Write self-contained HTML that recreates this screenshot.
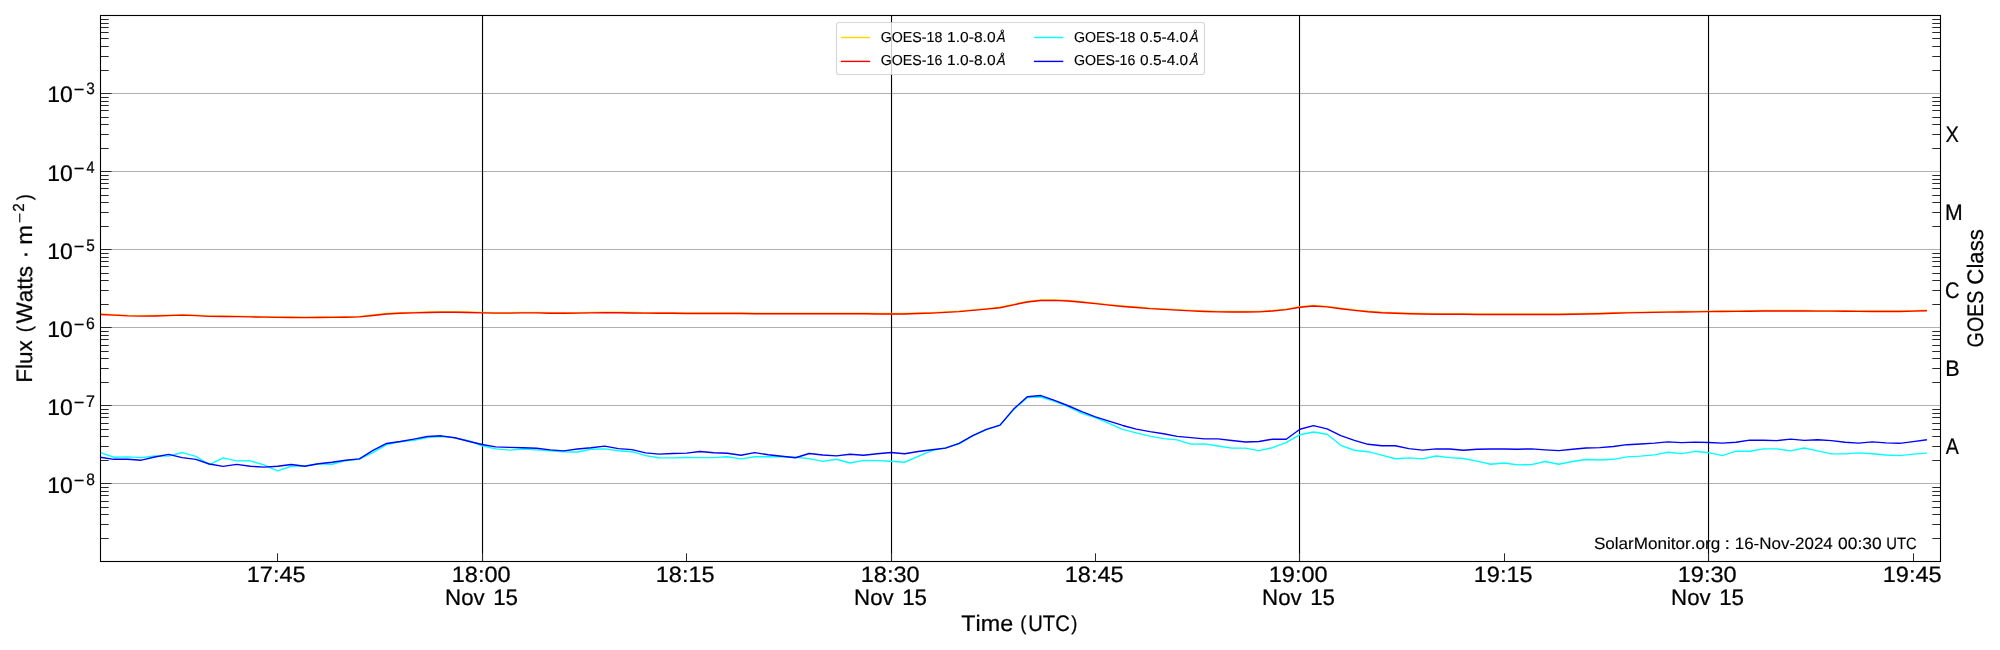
<!DOCTYPE html>
<html lang="en"><head><meta charset="utf-8"><title>GOES X-ray Flux</title>
<style>html,body{margin:0;padding:0;background:#fff;}body{width:2000px;height:650px;overflow:hidden;font-family:"Liberation Sans",sans-serif;}svg{display:block;}text{font-family:"Liberation Sans",sans-serif;fill:#000;font-kerning:none;white-space:pre;text-rendering:geometricPrecision;stroke:#000;stroke-width:0.24px;stroke-linejoin:round;}.s text{stroke-width:0.14px;}.t{filter:grayscale(1);}</style>
</head><body>
<svg width="2000" height="650" viewBox="0 0 2000 650">
<rect x="0" y="0" width="2000" height="650" fill="#ffffff"/>
<path d="M100.5 483.50H1940.5M100.5 405.50H1940.5M100.5 327.50H1940.5M100.5 249.50H1940.5M100.5 171.50H1940.5M100.5 93.50H1940.5" stroke="#b0b0b0" stroke-width="1.1" fill="none"/>
<path d="M482.52 15.5V561.5M891.52 15.5V561.5M1299.52 15.5V561.5M1708.52 15.5V561.5" stroke="#000" stroke-width="1.12" fill="none"/>
<g fill="none" stroke-linejoin="round" stroke-linecap="butt" stroke-width="1.40">
<polyline stroke="#ffd700" points="100.4,314.05 114.0,314.67 127.7,315.41 141.3,315.65 154.9,315.53 168.6,315.16 182.2,314.67 195.8,315.16 209.4,315.90 223.1,316.02 236.7,316.15 250.3,316.39 264.0,316.64 277.6,316.88 291.2,317.01 304.9,317.13 318.5,317.01 332.1,316.88 345.7,316.76 359.4,316.39 373.0,315.04 386.6,313.56 400.3,312.82 413.9,312.33 427.5,311.96 441.2,311.72 454.8,311.72 468.4,311.96 482.1,312.33 495.7,312.58 509.3,312.58 522.9,312.33 536.6,312.33 550.2,312.70 563.8,312.82 577.5,312.58 591.1,312.33 604.7,312.21 618.4,312.21 632.0,312.45 645.6,312.58 659.2,312.70 672.9,312.82 686.5,312.95 700.1,312.95 713.8,312.95 727.4,313.07 741.0,313.07 754.7,313.19 768.3,313.19 781.9,313.32 795.5,313.32 809.2,313.32 822.8,313.32 836.4,313.32 850.1,313.32 863.7,313.32 877.3,313.44 891.0,313.44 904.6,313.44 918.2,313.07 931.9,312.58 945.5,311.84 959.1,311.10 972.7,309.87 986.4,308.64 1000.0,307.28 1013.6,304.33 1027.3,301.50 1040.9,300.02 1054.5,299.90 1068.2,300.52 1081.8,301.75 1095.4,303.10 1109.0,304.58 1122.7,305.93 1136.3,307.04 1149.9,308.15 1163.6,308.88 1177.2,309.62 1190.8,310.36 1204.5,310.98 1218.1,311.35 1231.7,311.47 1245.4,311.47 1259.0,311.35 1272.6,310.48 1286.2,309.13 1299.9,306.79 1313.5,305.56 1327.1,306.42 1340.8,308.27 1354.4,309.87 1368.0,311.22 1381.7,312.21 1395.3,312.82 1408.9,313.32 1422.5,313.56 1436.2,313.68 1449.8,313.81 1463.4,313.81 1477.1,313.93 1490.7,313.93 1504.3,313.93 1518.0,313.93 1531.6,313.93 1545.2,313.93 1558.8,313.93 1572.5,313.81 1586.1,313.56 1599.7,313.32 1613.4,312.82 1627.0,312.33 1640.6,312.08 1654.3,311.84 1667.9,311.59 1681.5,311.47 1695.2,311.35 1708.8,311.10 1722.4,310.98 1736.0,310.85 1749.7,310.73 1763.3,310.55 1776.9,310.48 1790.6,310.48 1804.2,310.48 1817.8,310.61 1831.5,310.61 1845.1,310.73 1858.7,310.85 1872.3,310.98 1886.0,310.98 1899.6,310.98 1913.2,310.61 1926.9,310.24"/>
<polyline stroke="#ff0000" points="100.4,314.55 114.0,315.17 127.7,315.91 141.3,316.15 154.9,316.03 168.6,315.66 182.2,315.17 195.8,315.66 209.4,316.40 223.1,316.52 236.7,316.65 250.3,316.89 264.0,317.14 277.6,317.38 291.2,317.51 304.9,317.63 318.5,317.51 332.1,317.38 345.7,317.26 359.4,316.89 373.0,315.54 386.6,314.06 400.3,313.32 413.9,312.83 427.5,312.46 441.2,312.22 454.8,312.22 468.4,312.46 482.1,312.83 495.7,313.08 509.3,313.08 522.9,312.83 536.6,312.83 550.2,313.20 563.8,313.32 577.5,313.08 591.1,312.83 604.7,312.71 618.4,312.71 632.0,312.95 645.6,313.08 659.2,313.20 672.9,313.32 686.5,313.45 700.1,313.45 713.8,313.45 727.4,313.57 741.0,313.57 754.7,313.69 768.3,313.69 781.9,313.82 795.5,313.82 809.2,313.82 822.8,313.82 836.4,313.82 850.1,313.82 863.7,313.82 877.3,313.94 891.0,313.94 904.6,313.94 918.2,313.57 931.9,313.08 945.5,312.34 959.1,311.60 972.7,310.37 986.4,309.14 1000.0,307.78 1013.6,304.83 1027.3,302.00 1040.9,300.52 1054.5,300.40 1068.2,301.02 1081.8,302.25 1095.4,303.60 1109.0,305.08 1122.7,306.43 1136.3,307.54 1149.9,308.65 1163.6,309.38 1177.2,310.12 1190.8,310.86 1204.5,311.48 1218.1,311.85 1231.7,311.97 1245.4,311.97 1259.0,311.85 1272.6,310.98 1286.2,309.63 1299.9,307.29 1313.5,306.06 1327.1,306.92 1340.8,308.77 1354.4,310.37 1368.0,311.72 1381.7,312.71 1395.3,313.32 1408.9,313.82 1422.5,314.06 1436.2,314.18 1449.8,314.31 1463.4,314.31 1477.1,314.43 1490.7,314.43 1504.3,314.43 1518.0,314.43 1531.6,314.43 1545.2,314.43 1558.8,314.43 1572.5,314.31 1586.1,314.06 1599.7,313.82 1613.4,313.32 1627.0,312.83 1640.6,312.58 1654.3,312.34 1667.9,312.09 1681.5,311.97 1695.2,311.85 1708.8,311.60 1722.4,311.48 1736.0,311.35 1749.7,311.23 1763.3,311.05 1776.9,310.98 1790.6,310.98 1804.2,310.98 1817.8,311.11 1831.5,311.11 1845.1,311.23 1858.7,311.35 1872.3,311.48 1886.0,311.48 1899.6,311.48 1913.2,311.11 1926.9,310.74"/>
<polyline stroke="#00ffff" points="100.4,452.55 114.0,457.23 127.7,456.86 141.3,457.60 154.9,456.00 168.6,456.12 182.2,452.55 195.8,456.37 209.4,464.62 223.1,457.85 236.7,460.92 250.3,460.80 264.0,464.86 277.6,470.89 291.2,466.22 304.9,465.85 318.5,463.75 332.1,464.25 345.7,460.68 359.4,459.08 373.0,452.68 386.6,444.55 400.3,441.85 413.9,440.37 427.5,437.54 441.2,436.55 454.8,437.91 468.4,440.62 482.1,445.78 495.7,448.86 509.3,450.09 522.9,448.98 536.6,449.85 550.2,450.71 563.8,451.69 577.5,451.94 591.1,449.23 604.7,448.86 618.4,450.71 632.0,451.69 645.6,455.63 659.2,457.72 672.9,457.85 686.5,457.48 700.1,457.60 713.8,457.60 727.4,456.74 741.0,458.83 754.7,456.74 768.3,456.74 781.9,456.74 795.5,457.23 809.2,458.58 822.8,461.38 836.4,459.29 850.1,462.98 863.7,460.40 877.3,460.65 891.0,461.26 904.6,462.25 918.2,456.46 931.9,450.55 945.5,447.85 959.1,443.78 972.7,435.78 986.4,429.63 1000.0,425.32 1013.6,409.69 1027.3,397.63 1040.9,397.02 1054.5,401.32 1068.2,406.62 1081.8,413.38 1095.4,417.69 1109.0,423.48 1122.7,429.38 1136.3,432.83 1149.9,436.15 1163.6,438.62 1177.2,439.85 1190.8,444.15 1204.5,443.91 1218.1,446.00 1231.7,448.09 1245.4,448.09 1259.0,450.68 1272.6,447.60 1286.2,442.68 1299.9,434.71 1313.5,432.00 1327.1,434.22 1340.8,445.29 1354.4,450.22 1368.0,451.69 1381.7,455.14 1395.3,458.71 1408.9,457.85 1422.5,458.83 1436.2,456.00 1449.8,457.60 1463.4,458.46 1477.1,461.17 1490.7,464.25 1504.3,463.02 1518.0,464.86 1531.6,464.62 1545.2,461.54 1558.8,464.25 1572.5,461.54 1586.1,459.45 1599.7,459.94 1613.4,459.32 1627.0,456.86 1640.6,456.12 1654.3,454.89 1667.9,452.31 1681.5,453.66 1695.2,451.32 1708.8,452.68 1722.4,455.63 1736.0,451.08 1749.7,451.20 1763.3,448.86 1776.9,448.86 1790.6,450.83 1804.2,448.00 1817.8,450.83 1831.5,453.91 1845.1,453.91 1858.7,452.92 1872.3,453.78 1886.0,455.02 1899.6,455.63 1913.2,454.15 1926.9,453.17"/>
<polyline stroke="#0000ff" points="100.4,457.23 114.0,459.32 127.7,459.20 141.3,460.18 154.9,456.98 168.6,454.40 182.2,457.60 195.8,459.32 209.4,464.00 223.1,466.34 236.7,464.37 250.3,466.22 264.0,467.08 277.6,466.22 291.2,464.49 304.9,466.22 318.5,463.75 332.1,462.28 345.7,460.31 359.4,458.83 373.0,450.46 386.6,443.45 400.3,441.48 413.9,439.14 427.5,436.55 441.2,435.82 454.8,437.78 468.4,441.23 482.1,444.55 495.7,446.89 509.3,447.38 522.9,447.75 536.6,448.25 550.2,449.85 563.8,450.83 577.5,448.98 591.1,447.75 604.7,446.15 618.4,448.62 632.0,449.60 645.6,452.92 659.2,454.15 672.9,453.54 686.5,453.17 700.1,451.45 713.8,452.68 727.4,453.29 741.0,455.26 754.7,452.68 768.3,454.77 781.9,456.25 795.5,457.72 809.2,453.54 822.8,454.98 836.4,455.85 850.1,454.25 863.7,455.23 877.3,453.75 891.0,452.52 904.6,453.75 918.2,451.54 931.9,449.69 945.5,448.09 959.1,443.29 972.7,435.54 986.4,429.38 1000.0,425.08 1013.6,409.08 1027.3,396.77 1040.9,395.54 1054.5,400.46 1068.2,405.75 1081.8,411.54 1095.4,416.83 1109.0,421.14 1122.7,425.45 1136.3,429.14 1149.9,431.60 1163.6,433.69 1177.2,436.40 1190.8,437.63 1204.5,438.86 1218.1,438.86 1231.7,440.46 1245.4,441.94 1259.0,441.45 1272.6,439.23 1286.2,439.23 1299.9,429.29 1313.5,425.60 1327.1,428.92 1340.8,435.69 1354.4,440.37 1368.0,444.31 1381.7,445.78 1395.3,445.78 1408.9,448.62 1422.5,450.09 1436.2,448.86 1449.8,448.98 1463.4,450.22 1477.1,449.23 1490.7,448.98 1504.3,448.98 1518.0,449.23 1531.6,448.86 1545.2,449.85 1558.8,450.58 1572.5,449.23 1586.1,448.00 1599.7,447.63 1613.4,446.52 1627.0,444.68 1640.6,443.94 1654.3,443.08 1667.9,441.85 1681.5,442.58 1695.2,442.09 1708.8,442.46 1722.4,443.08 1736.0,442.22 1749.7,440.12 1763.3,440.25 1776.9,440.62 1790.6,439.14 1804.2,440.37 1817.8,439.75 1831.5,440.62 1845.1,442.22 1858.7,443.08 1872.3,441.85 1886.0,442.83 1899.6,443.32 1913.2,441.60 1926.9,439.75"/>
</g>
<path d="M100.5 538.50h8.2M1940.5 538.50h-8.2M100.5 524.50h8.2M1940.5 524.50h-8.2M100.5 514.50h8.2M1940.5 514.50h-8.2M100.5 507.50h8.2M1940.5 507.50h-8.2M100.5 501.50h8.2M1940.5 501.50h-8.2M100.5 495.50h8.2M1940.5 495.50h-8.2M100.5 491.50h8.2M1940.5 491.50h-8.2M100.5 487.50h8.2M1940.5 487.50h-8.2M100.5 483.50h11.1M100.5 460.50h8.2M1940.5 460.50h-8.2M100.5 446.50h8.2M1940.5 446.50h-8.2M100.5 436.50h8.2M1940.5 436.50h-8.2M100.5 429.50h8.2M1940.5 429.50h-8.2M100.5 423.50h8.2M1940.5 423.50h-8.2M100.5 417.50h8.2M1940.5 417.50h-8.2M100.5 413.50h8.2M1940.5 413.50h-8.2M100.5 409.50h8.2M1940.5 409.50h-8.2M100.5 405.50h11.1M100.5 382.50h8.2M1940.5 382.50h-8.2M100.5 368.50h8.2M1940.5 368.50h-8.2M100.5 358.50h8.2M1940.5 358.50h-8.2M100.5 351.50h8.2M1940.5 351.50h-8.2M100.5 345.50h8.2M1940.5 345.50h-8.2M100.5 339.50h8.2M1940.5 339.50h-8.2M100.5 335.50h8.2M1940.5 335.50h-8.2M100.5 331.50h8.2M1940.5 331.50h-8.2M100.5 327.50h11.1M100.5 304.50h8.2M1940.5 304.50h-8.2M100.5 290.50h8.2M1940.5 290.50h-8.2M100.5 280.50h8.2M1940.5 280.50h-8.2M100.5 273.50h8.2M1940.5 273.50h-8.2M100.5 266.50h8.2M1940.5 266.50h-8.2M100.5 261.50h8.2M1940.5 261.50h-8.2M100.5 257.50h8.2M1940.5 257.50h-8.2M100.5 253.50h8.2M1940.5 253.50h-8.2M100.5 249.50h11.1M100.5 226.50h8.2M1940.5 226.50h-8.2M100.5 212.50h8.2M1940.5 212.50h-8.2M100.5 202.50h8.2M1940.5 202.50h-8.2M100.5 195.50h8.2M1940.5 195.50h-8.2M100.5 188.50h8.2M1940.5 188.50h-8.2M100.5 183.50h8.2M1940.5 183.50h-8.2M100.5 179.50h8.2M1940.5 179.50h-8.2M100.5 175.50h8.2M1940.5 175.50h-8.2M100.5 171.50h11.1M100.5 148.50h8.2M1940.5 148.50h-8.2M100.5 134.50h8.2M1940.5 134.50h-8.2M100.5 124.50h8.2M1940.5 124.50h-8.2M100.5 117.50h8.2M1940.5 117.50h-8.2M100.5 110.50h8.2M1940.5 110.50h-8.2M100.5 105.50h8.2M1940.5 105.50h-8.2M100.5 101.50h8.2M1940.5 101.50h-8.2M100.5 97.50h8.2M1940.5 97.50h-8.2M100.5 93.50h11.1M100.5 70.50h8.2M1940.5 70.50h-8.2M100.5 56.50h8.2M1940.5 56.50h-8.2M100.5 46.50h8.2M1940.5 46.50h-8.2M100.5 38.50h8.2M1940.5 38.50h-8.2M100.5 32.50h8.2M1940.5 32.50h-8.2M100.5 27.50h8.2M1940.5 27.50h-8.2M100.5 23.50h8.2M1940.5 23.50h-8.2M100.5 19.50h8.2M1940.5 19.50h-8.2" stroke="#2a2a2a" stroke-width="1.0" fill="none"/>
<path d="M277.5 561.5v-8.2M482.5 561.5v-8.2M686.5 561.5v-8.2M891.5 561.5v-8.2M1095.5 561.5v-8.2M1299.5 561.5v-8.2M1504.5 561.5v-8.2M1708.5 561.5v-8.2M1913.5 561.5v-8.2" stroke="#2a2a2a" stroke-width="1.0" fill="none"/>
<rect x="100.5" y="15.5" width="1840.0" height="546.0" fill="none" stroke="#000" stroke-width="1.1"/>
<g class="t">
<text x="47.25" y="492.80" font-size="22.60" text-anchor="start" textLength="25.55" lengthAdjust="spacingAndGlyphs">10</text>
<text x="73.70" y="486.20" font-size="16.60" text-anchor="start" textLength="10.70" lengthAdjust="spacingAndGlyphs">−</text>
<text x="86.22" y="485.20" font-size="16.60" text-anchor="start" textLength="8.65" lengthAdjust="spacingAndGlyphs">8</text>
<text x="47.25" y="414.80" font-size="22.60" text-anchor="start" textLength="25.55" lengthAdjust="spacingAndGlyphs">10</text>
<text x="73.70" y="408.20" font-size="16.60" text-anchor="start" textLength="10.70" lengthAdjust="spacingAndGlyphs">−</text>
<text x="86.08" y="407.20" font-size="16.60" text-anchor="start" textLength="8.93" lengthAdjust="spacingAndGlyphs">7</text>
<text x="47.25" y="336.70" font-size="22.60" text-anchor="start" textLength="25.55" lengthAdjust="spacingAndGlyphs">10</text>
<text x="73.70" y="330.10" font-size="16.60" text-anchor="start" textLength="10.70" lengthAdjust="spacingAndGlyphs">−</text>
<text x="86.10" y="329.10" font-size="16.60" text-anchor="start" textLength="8.80" lengthAdjust="spacingAndGlyphs">6</text>
<text x="47.25" y="258.80" font-size="22.60" text-anchor="start" textLength="25.55" lengthAdjust="spacingAndGlyphs">10</text>
<text x="73.70" y="252.20" font-size="16.60" text-anchor="start" textLength="10.70" lengthAdjust="spacingAndGlyphs">−</text>
<text x="86.28" y="251.20" font-size="16.60" text-anchor="start" textLength="8.56" lengthAdjust="spacingAndGlyphs">5</text>
<text x="47.25" y="180.80" font-size="22.60" text-anchor="start" textLength="25.55" lengthAdjust="spacingAndGlyphs">10</text>
<text x="73.70" y="174.20" font-size="16.60" text-anchor="start" textLength="10.70" lengthAdjust="spacingAndGlyphs">−</text>
<text x="86.57" y="173.20" font-size="16.60" text-anchor="start" textLength="8.06" lengthAdjust="spacingAndGlyphs">4</text>
<text x="47.25" y="101.90" font-size="22.60" text-anchor="start" textLength="25.55" lengthAdjust="spacingAndGlyphs">10</text>
<text x="73.70" y="95.30" font-size="16.60" text-anchor="start" textLength="10.70" lengthAdjust="spacingAndGlyphs">−</text>
<text x="86.31" y="94.30" font-size="16.60" text-anchor="start" textLength="8.56" lengthAdjust="spacingAndGlyphs">3</text>
<text x="276.20" y="581.70" font-size="22.30" text-anchor="middle" textLength="58.80" lengthAdjust="spacingAndGlyphs">17:45</text>
<text x="481.20" y="581.70" font-size="22.30" text-anchor="middle" textLength="58.80" lengthAdjust="spacingAndGlyphs">18:00</text>
<text x="445.07" y="604.70" font-size="22.40" text-anchor="start" textLength="39.60" lengthAdjust="spacingAndGlyphs">Nov</text>
<text x="493.20" y="604.70" font-size="22.40" text-anchor="start" textLength="24.84" lengthAdjust="spacingAndGlyphs">15</text>
<text x="685.20" y="581.70" font-size="22.30" text-anchor="middle" textLength="58.80" lengthAdjust="spacingAndGlyphs">18:15</text>
<text x="890.20" y="581.70" font-size="22.30" text-anchor="middle" textLength="58.80" lengthAdjust="spacingAndGlyphs">18:30</text>
<text x="854.07" y="604.70" font-size="22.40" text-anchor="start" textLength="39.60" lengthAdjust="spacingAndGlyphs">Nov</text>
<text x="902.20" y="604.70" font-size="22.40" text-anchor="start" textLength="24.84" lengthAdjust="spacingAndGlyphs">15</text>
<text x="1094.20" y="581.70" font-size="22.30" text-anchor="middle" textLength="58.80" lengthAdjust="spacingAndGlyphs">18:45</text>
<text x="1298.20" y="581.70" font-size="22.30" text-anchor="middle" textLength="58.80" lengthAdjust="spacingAndGlyphs">19:00</text>
<text x="1262.07" y="604.70" font-size="22.40" text-anchor="start" textLength="39.60" lengthAdjust="spacingAndGlyphs">Nov</text>
<text x="1310.20" y="604.70" font-size="22.40" text-anchor="start" textLength="24.84" lengthAdjust="spacingAndGlyphs">15</text>
<text x="1503.20" y="581.70" font-size="22.30" text-anchor="middle" textLength="58.80" lengthAdjust="spacingAndGlyphs">19:15</text>
<text x="1707.20" y="581.70" font-size="22.30" text-anchor="middle" textLength="58.80" lengthAdjust="spacingAndGlyphs">19:30</text>
<text x="1671.07" y="604.70" font-size="22.40" text-anchor="start" textLength="39.60" lengthAdjust="spacingAndGlyphs">Nov</text>
<text x="1719.20" y="604.70" font-size="22.40" text-anchor="start" textLength="24.84" lengthAdjust="spacingAndGlyphs">15</text>
<text x="1912.20" y="581.70" font-size="22.30" text-anchor="middle" textLength="58.80" lengthAdjust="spacingAndGlyphs">19:45</text>
<text x="961.38" y="630.60" font-size="22.50" text-anchor="start" textLength="51.76" lengthAdjust="spacingAndGlyphs">Time</text>
<text x="1020.15" y="630.15" font-size="20.20" text-anchor="start" textLength="6.15" lengthAdjust="spacingAndGlyphs">(</text>
<text x="1028.24" y="630.60" font-size="22.50" text-anchor="start" textLength="41.53" lengthAdjust="spacingAndGlyphs">UTC</text>
<text x="1071.19" y="630.15" font-size="20.20" text-anchor="start" textLength="6.15" lengthAdjust="spacingAndGlyphs">)</text>
<g transform="translate(32.1 0) rotate(-90)">
<text x="-382.85" y="-0.20" font-size="22.40" text-anchor="start" textLength="42.59" lengthAdjust="spacingAndGlyphs">Flux</text>
<text x="-332.27" y="-0.65" font-size="20.20" text-anchor="start" textLength="6.28" lengthAdjust="spacingAndGlyphs">(</text>
<text x="-323.60" y="-0.20" font-size="22.40" text-anchor="start" textLength="57.61" lengthAdjust="spacingAndGlyphs">Watts</text>
<text x="-258.89" y="-0.20" font-size="22.40" text-anchor="start" textLength="8.39" lengthAdjust="spacingAndGlyphs">·</text>
<text x="-244.87" y="-0.20" font-size="22.40" text-anchor="start" textLength="19.73" lengthAdjust="spacingAndGlyphs">m</text>
<text x="-223.06" y="-6.80" font-size="16.00" text-anchor="start" textLength="10.22" lengthAdjust="spacingAndGlyphs">−</text>
<text x="-211.76" y="-7.70" font-size="16.00" text-anchor="start" textLength="8.42" lengthAdjust="spacingAndGlyphs">2</text>
<text x="-200.21" y="-0.65" font-size="20.20" text-anchor="start" textLength="6.03" lengthAdjust="spacingAndGlyphs">)</text>
</g>
<g transform="translate(1983.5 0) rotate(-90)">
<text x="-347.39" y="-0.20" font-size="22.50" text-anchor="start" textLength="56.79" lengthAdjust="spacingAndGlyphs">GOES</text>
<text x="-284.63" y="-0.20" font-size="22.50" text-anchor="start" textLength="55.43" lengthAdjust="spacingAndGlyphs">Class</text>
</g>
<text x="1945.55" y="141.70" font-size="22.50" text-anchor="start" textLength="13.37" lengthAdjust="spacingAndGlyphs">X</text>
<text x="1945.06" y="219.70" font-size="22.50" text-anchor="start" textLength="17.68" lengthAdjust="spacingAndGlyphs">M</text>
<text x="1945.08" y="297.70" font-size="22.50" text-anchor="start" textLength="14.48" lengthAdjust="spacingAndGlyphs">C</text>
<text x="1945.23" y="375.70" font-size="22.50" text-anchor="start" textLength="14.41" lengthAdjust="spacingAndGlyphs">B</text>
<text x="1945.76" y="453.70" font-size="22.50" text-anchor="start" textLength="13.08" lengthAdjust="spacingAndGlyphs">A</text>
<g class="s">
<text x="1593.92" y="548.80" font-size="16.50" text-anchor="start" textLength="126.38" lengthAdjust="spacingAndGlyphs">SolarMonitor.org</text>
<text x="1724.48" y="548.80" font-size="16.50" text-anchor="start" textLength="5.54" lengthAdjust="spacingAndGlyphs">:</text>
<text x="1734.71" y="548.80" font-size="16.50" text-anchor="start" textLength="98.09" lengthAdjust="spacingAndGlyphs">16-Nov-2024</text>
<text x="1838.12" y="548.80" font-size="16.50" text-anchor="start" textLength="43.46" lengthAdjust="spacingAndGlyphs">00:30</text>
<text x="1886.36" y="548.80" font-size="16.50" text-anchor="start" textLength="30.40" lengthAdjust="spacingAndGlyphs">UTC</text>
</g>
</g>
<rect x="836.5" y="22.5" width="368" height="52" rx="2.8" ry="2.8" fill="#ffffff" fill-opacity="0.8" stroke="#cccccc" stroke-opacity="0.8" stroke-width="1.1"/>
<path d="M840.8 37.5h29.4" stroke="#ffd700" stroke-width="1.4" fill="none"/>
<path d="M840.8 61.4h29.4" stroke="#ff0000" stroke-width="1.4" fill="none"/>
<path d="M1033.9 37.5h29.4" stroke="#00ffff" stroke-width="1.4" fill="none"/>
<path d="M1033.9 61.4h29.4" stroke="#0000ff" stroke-width="1.4" fill="none"/>
<g class="t s">
<text x="880.79" y="41.70" font-size="14.40" text-anchor="start" textLength="61.53" lengthAdjust="spacingAndGlyphs">GOES-18</text>
<text x="947.11" y="41.70" font-size="14.40" text-anchor="start" textLength="48.49" lengthAdjust="spacingAndGlyphs">1.0-8.0</text>
<text x="996.65" y="41.70" font-size="14.40" text-anchor="start" textLength="8.86" lengthAdjust="spacingAndGlyphs" font-style="italic">Å</text>
<text x="880.79" y="65.30" font-size="14.40" text-anchor="start" textLength="61.54" lengthAdjust="spacingAndGlyphs">GOES-16</text>
<text x="947.11" y="65.30" font-size="14.40" text-anchor="start" textLength="48.49" lengthAdjust="spacingAndGlyphs">1.0-8.0</text>
<text x="996.65" y="65.30" font-size="14.40" text-anchor="start" textLength="8.86" lengthAdjust="spacingAndGlyphs" font-style="italic">Å</text>
<text x="1073.89" y="41.70" font-size="14.40" text-anchor="start" textLength="61.53" lengthAdjust="spacingAndGlyphs">GOES-18</text>
<text x="1140.10" y="41.70" font-size="14.40" text-anchor="start" textLength="48.11" lengthAdjust="spacingAndGlyphs">0.5-4.0</text>
<text x="1189.75" y="41.70" font-size="14.40" text-anchor="start" textLength="8.86" lengthAdjust="spacingAndGlyphs" font-style="italic">Å</text>
<text x="1073.89" y="65.30" font-size="14.40" text-anchor="start" textLength="61.54" lengthAdjust="spacingAndGlyphs">GOES-16</text>
<text x="1140.10" y="65.30" font-size="14.40" text-anchor="start" textLength="48.11" lengthAdjust="spacingAndGlyphs">0.5-4.0</text>
<text x="1189.75" y="65.30" font-size="14.40" text-anchor="start" textLength="8.86" lengthAdjust="spacingAndGlyphs" font-style="italic">Å</text>
</g>
</svg>
</body></html>
